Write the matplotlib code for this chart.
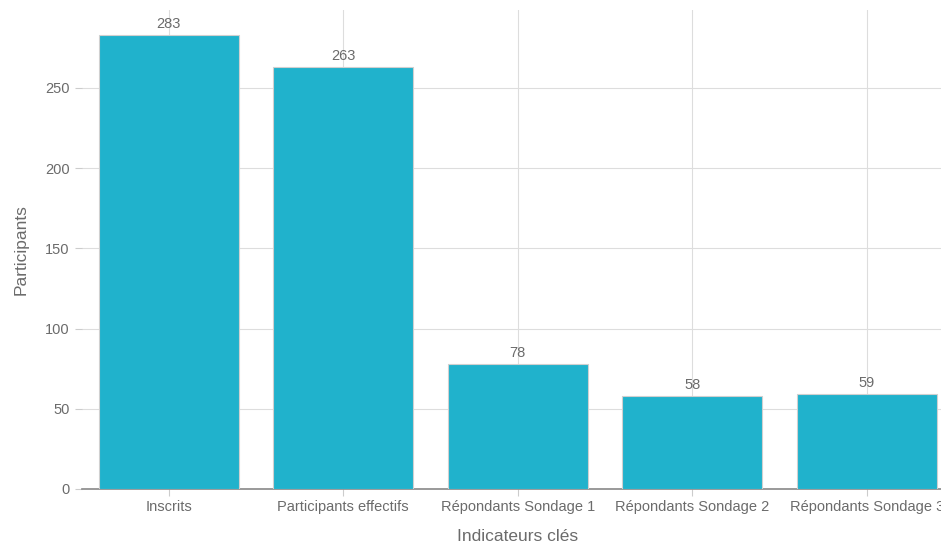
import matplotlib.pyplot as plt

# Data
categories = ["Inscrits", "Participants effectifs", "Répondants Sondage 1",
              "Répondants Sondage 2", "Répondants Sondage 3"]
values = [283, 263, 78, 58, 59]
y_ticks = [0, 50, 100, 150, 200, 250]

text_color = "#6b6b6b"
bar_color = "#20b2cc"

plt.rcParams['font.family'] = ['Liberation Sans', 'DejaVu Sans']

fig = plt.figure(figsize=(9.41, 5.43), dpi=100)
ax = fig.add_axes([81.5 / 941, 54 / 543, 872.5 / 941, 479 / 543])

x = list(range(len(categories)))
bars = ax.bar(x, values, width=0.8, color=bar_color, edgecolor="#d0d0d0",
              linewidth=0.8, zorder=3)

for xi, v in zip(x, values):
    ax.text(xi, v + 2.5, str(v), ha="center", va="bottom", fontsize=10.5,
            color=text_color, zorder=4)

ax.set_xlim(-0.5, 4.5)
ax.set_ylim(0, 298.6)
ax.set_xticks(x)
ax.set_xticklabels(categories)
ax.set_yticks(y_ticks)

ax.grid(True, color="#dddddd", linewidth=0.8, zorder=0)
for side in ["top", "right", "left"]:
    ax.spines[side].set_visible(False)
ax.spines["bottom"].set_color("#888888")
ax.spines["bottom"].set_linewidth(1.2)

ax.tick_params(axis="both", colors="#cccccc", labelcolor=text_color,
               labelsize=10.5, length=5)
ax.tick_params(axis="x", pad=3)

ax.set_xlabel("Indicateurs clés", fontsize=12.5, color=text_color, labelpad=11)
ax.set_ylabel("Participants", fontsize=12.5, color=text_color, labelpad=12)

fig.savefig("out.png", dpi=100)
